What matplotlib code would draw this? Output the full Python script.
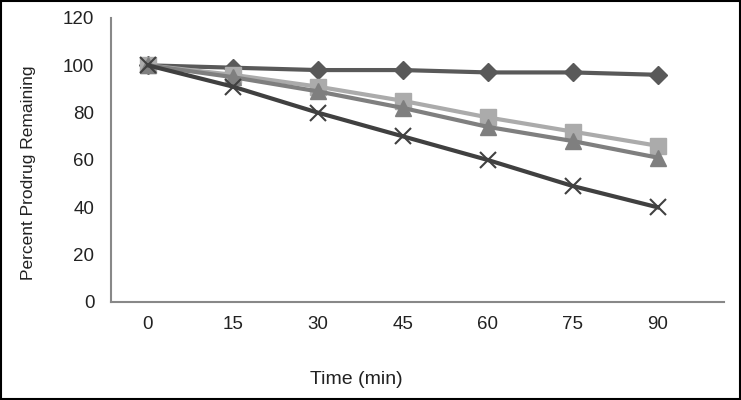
import numpy as np
import matplotlib.pyplot as plt
from matplotlib.patches import Rectangle

plt.rcParams['font.family'] = ['Liberation Sans', 'DejaVu Sans']

time_labels = ["0", "15", "30", "45", "60", "75", "90"]
diamond = [100, 99, 98, 98, 97, 97, 96]
square = [100, 96, 91, 85, 78, 72, 66]
triangle = [100, 95, 89, 82, 74, 68, 61]
cross = [100, 91, 80, 70, 60, 49, 40]

x = np.arange(len(time_labels))

fig = plt.figure(figsize=(7.41, 4.0), dpi=100)
ax = fig.add_axes([111/741, 1 - 302/400, (724 - 111)/741, (302 - 18)/400])

ax.plot(x, diamond, color="#595959", lw=3, marker="D", ms=9, mec="#595959", zorder=3)
ax.plot(x, square, color="#ababab", lw=3, marker="s", ms=11, zorder=3)
ax.plot(x, triangle, color="#7f7f7f", lw=3, marker="^", ms=11, zorder=3)
ax.plot(x, cross, color="#404040", lw=3, marker="x", ms=12, mew=1.5, zorder=4)

ax.set_xlim(-0.435, 6.78)
ax.set_ylim(0, 120)
ax.set_yticks(range(0, 121, 20))
ax.set_xticks(x)
ax.set_xticklabels(time_labels)
ax.tick_params(axis="both", length=0, labelsize=13.5, colors="#222222")
ax.tick_params(axis="x", pad=10)
ax.tick_params(axis="y", pad=12)

for s in ["top", "right"]:
    ax.spines[s].set_visible(False)
for s in ["left", "bottom"]:
    ax.spines[s].set_color("#888888")
    ax.spines[s].set_linewidth(1.5)

fig.text(28/741, 1 - 173/400, "Percent Prodrug Remaining", rotation=90,
         ha="center", va="center", fontsize=12.5, color="#222222")
fig.text(356/741, 1 - 379/400, "Time (min)", ha="center", va="center",
         fontsize=14, color="#222222")

fig.patches.append(Rectangle((0.001, 0.003), 0.997, 0.994, transform=fig.transFigure,
                             fill=False, edgecolor="black", lw=1.5))

fig.savefig("out.png", dpi=100)
